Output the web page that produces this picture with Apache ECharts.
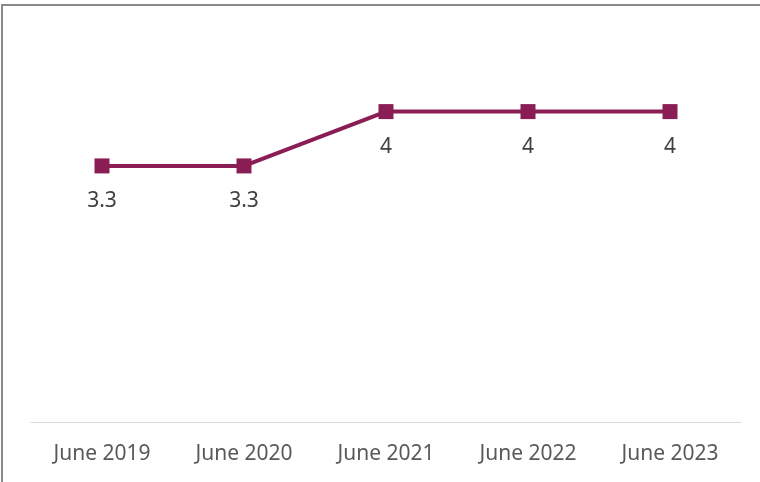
<!DOCTYPE html>
<html>
<head>
<meta charset="utf-8">
<style>html,body{margin:0;padding:0;background:#fff;}#c{width:760px;height:482px;}</style>
<script src="https://cdn.jsdelivr.net/npm/echarts@6/dist/echarts.min.js"></script>
</head>
<body>
<div id="c"></div>
<script>
const categories = ["June 2019", "June 2020", "June 2021", "June 2022", "June 2023"];
const values = [3.3, 3.3, 4, 4, 4];
const chart = echarts.init(document.getElementById('c'), null, {renderer: 'canvas'});
chart.setOption({
  animation: false,
  backgroundColor: '#ffffff',
  graphic: [{
    type: 'rect',
    shape: {x: 2, y: 5, width: 800, height: 600},
    style: {fill: 'none', stroke: '#8a8a8a', lineWidth: 2},
    silent: true
  }],
  grid: {left: 31, right: 19, top: 34, bottom: 60},
  xAxis: {
    type: 'category',
    data: categories,
    boundaryGap: true,
    axisLine: {show: true, lineStyle: {color: '#d9d9d9', width: 1}},
    axisTick: {show: false},
    axisLabel: {color: '#595959', fontSize: 21, fontFamily: 'Noto Sans', margin: 22}
  },
  yAxis: {
    type: 'value',
    min: 0, max: 5, interval: 1,
    show: false,
    splitLine: {show: false}
  },
  series: [{
    type: 'line',
    data: values,
    symbol: 'rect',
    symbolSize: 15,
    lineStyle: {color: '#8b1d55', width: 4},
    itemStyle: {color: '#8b1d55'},
    label: {
      show: true,
      position: 'bottom',
      distance: 17,
      color: '#404040',
      fontSize: 21,
      fontFamily: 'Noto Sans'
    }
  }]
});
</script>
</body>
</html>
